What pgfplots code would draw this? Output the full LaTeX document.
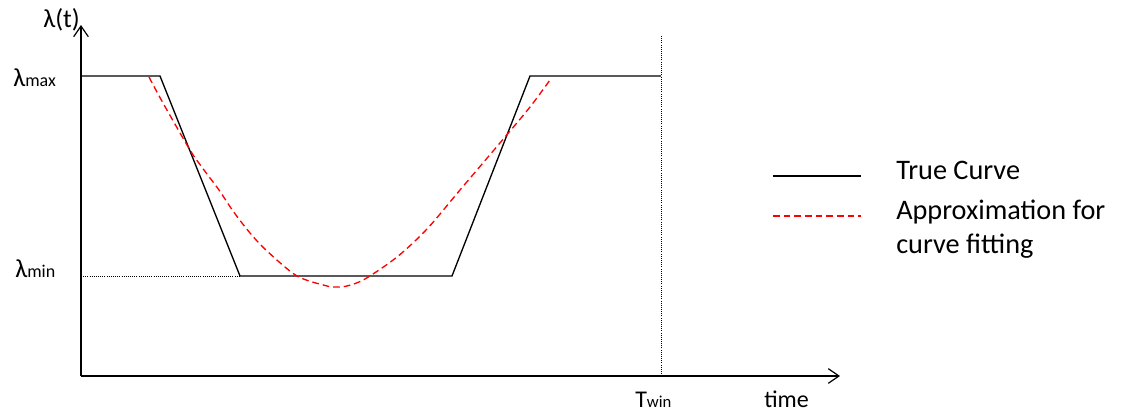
\documentclass[border=0pt]{standalone}
\usepackage{pgfplots}
\pgfplotsset{compat=1.18}
\usepackage{fontspec}
\setmainfont{Carlito}
\usetikzlibrary{arrows.meta}
\newcommand{\bigf}{\fontsize{19.5}{23}\selectfont}
\newcommand{\legf}{\fontsize{21.2}{25}\selectfont}
\newcommand{\smallf}{\fontsize{13.5}{16}\selectfont}
\begin{document}
\begin{tikzpicture}
\begin{axis}[
  scale only axis, width=569.25pt, height=263.25pt,
  xmin=0,xmax=759,ymin=0,ymax=351,
  axis x line=bottom, axis y line=left,
  axis line style={line width=0.9pt, -{Straight Barb[length=8pt,width=11pt,line width=0.9pt]}},
  xtick=\empty, ytick=\empty,
  clip=false,
  legend style={draw=none, fill=none, at={(axis cs:691,215)}, anchor=north west,
    font=\legf, inner sep=0pt, row sep=7pt, nodes={inner sep=0pt, text height=14pt, text depth=4pt},
    /tikz/every odd column/.append style={column sep=26pt}},
  legend cell align=left,
]
\addplot[black, line width=1pt,
  legend image code/.code={\draw[black, line width=1pt] (0pt,-2pt) -- (66pt,-2pt); \path (0pt,-13.5pt);}]
  coordinates {(0,300)(79,300)(159,100)(371,100)(449,300)(580,300)};
\addlegendentry{True Curve}
\addplot[red, line width=1pt, dash pattern=on 5pt off 3pt, smooth,
  legend image code/.code={\draw[red, line width=1pt, dash pattern=on 5pt off 3pt] (0pt,-2pt) -- (66pt,-2pt);}]
  coordinates {
(68,299)(82,273)(109,226)(123,206)(138,186)(152,165)(169,143)(186,125)(216,100)(246,90)(254,89)(266,90)(284,97)(316,119)(346,147)(379,186)(424,239)(449,269)(469,296)};
\addlegendentry{Approximation for}
\addlegendimage{empty legend}
\addlegendentry{curve fitting}
\addplot[black, line width=0.6pt, densely dotted, forget plot] coordinates {(580,0)(580,341)};
\addplot[black, line width=0.6pt, densely dotted, forget plot] coordinates {(0,100)(159,100)};
\node[anchor=base west, inner sep=0pt] at (axis cs:-38,349) {\bigf λ(t)};
\node[anchor=base west, inner sep=0pt] at (axis cs:-68,290) {{\bigf λ}{\smallf max}};
\node[anchor=base west, inner sep=0pt] at (axis cs:-66,99) {{\bigf λ}{\smallf min}};
\node[anchor=base west, inner sep=0pt] at (axis cs:554,-31) {{\fontsize{18}{21}\selectfont T}{\fontsize{12.5}{15}\selectfont win}};
\node[anchor=base west, inner sep=0pt] at (axis cs:683,-31) {{\fontsize{18}{21}\selectfont time}};
\path (axis cs:-81,-36) rectangle (axis cs:1040,376);
\end{axis}
\end{tikzpicture}
\end{document}
